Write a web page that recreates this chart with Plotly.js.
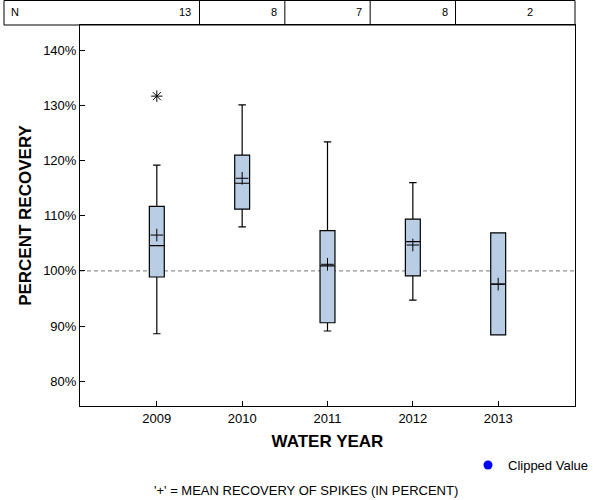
<!DOCTYPE html>
<html>
<head>
<meta charset="utf-8">
<script src="https://cdn.plot.ly/plotly-3.0.1.min.js"></script>
<style>html,body{margin:0;padding:0;background:#fff;}#chart{width:600px;height:500px;}</style>
</head>
<body>
<div id="chart"></div>
<script>
// ---- data ----
var years = ['2009', '2010', '2011', '2012', '2013'];
var nCounts = [13, 8, 7, 8, 2];
var q1Values = [98.9, 111.2, 90.6, 99.1, 88.4];
var medianValues = [104.6, 115.9, 100.9, 105.3, 97.6];
var q3Values = [111.7, 121.0, 107.3, 109.4, 106.9];
var lowerWhisker = [88.6, 108.0, 89.1, 94.7, 88.4];
var upperWhisker = [119.2, 130.1, 123.4, 116.0, 106.9];
var meanValues = [106.5, 116.8, 101.2, 104.7, 97.6];
var outlierYears = ['2009'];
var outlierValues = [131.7];
var yTickValues = [80, 90, 100, 110, 120, 130, 140];
var yTickLabels = ['80%', '90%', '100%', '110%', '120%', '130%', '140%'];

var FONT = 'Liberation Sans, Arial, Helvetica, sans-serif';

var traces = [
  {
    type: 'box',
    x: years,
    q1: q1Values,
    median: medianValues,
    q3: q3Values,
    lowerfence: lowerWhisker,
    upperfence: upperWhisker,
    boxpoints: false,
    width: 0.175,
    whiskerwidth: 0.5,
    fillcolor: '#b9cde5',
    line: {color: '#000000', width: 1.2},
    showlegend: false,
    hoverinfo: 'skip'
  },
  {
    type: 'scatter',
    mode: 'markers',
    x: years,
    y: meanValues,
    marker: {symbol: 'cross-thin', size: 9, color: '#000000', line: {color: '#000000', width: 1}},
    showlegend: false,
    hoverinfo: 'skip'
  },
  {
    type: 'scatter',
    mode: 'markers',
    x: outlierYears,
    y: outlierValues,
    marker: {symbol: 'asterisk-open', size: 9.5, color: '#000000', line: {color: '#000000', width: 1}},
    showlegend: false,
    hoverinfo: 'skip'
  },
  {
    type: 'scatter',
    mode: 'markers',
    x: [null],
    y: [null],
    name: 'Clipped Value',
    marker: {symbol: 'circle', size: 9, color: '#0000ff'},
    showlegend: true
  }
];

var plotH = 500 - 25 - 94;
var tableTop = 1 + 24.5 / plotH;
var tableMid = 1 + 12.5 / plotH;

var shapes = [
  {type: 'rect', xref: 'paper', yref: 'paper', x0: (4 - 80) / 495, x1: 1, y0: 1, y1: tableTop,
   line: {color: '#000000', width: 1}, fillcolor: 'rgba(0,0,0,0)'},
  {type: 'line', xref: 'paper', yref: 'y', x0: 0, x1: 1, y0: 100, y1: 100,
   line: {color: '#777777', width: 1, dash: '4px,3px'}, layer: 'below'}
];
for (var i = 0; i < years.length - 1; i++) {
  shapes.push({type: 'line', xref: 'x', yref: 'paper', x0: i + 0.5, x1: i + 0.5, y0: 1, y1: tableTop,
               line: {color: '#000000', width: 1}});
}

var annotations = [
  {xref: 'paper', yref: 'paper', x: (9 - 80) / 495, y: tableMid, xanchor: 'left', yanchor: 'middle',
   text: 'N', showarrow: false, font: {family: FONT, size: 11, color: '#000'}},
  {xref: 'paper', yref: 'paper', x: (306 - 80) / 495, y: (406 - 491) / plotH, xanchor: 'center', yanchor: 'middle',
   text: "'+' = MEAN RECOVERY OF SPIKES (IN PERCENT)", showarrow: false, font: {family: FONT, size: 13, color: '#000'}}
];
for (var j = 0; j < years.length; j++) {
  annotations.push({xref: 'x', yref: 'paper', x: Math.min(j + 0.5, 4.9), y: tableMid, xanchor: 'right', yanchor: 'middle',
    xshift: -6, text: String(nCounts[j]), showarrow: false, font: {family: FONT, size: 11, color: '#000'}});
}

var layout = {
  width: 600,
  height: 500,
  margin: {l: 80, r: 25, t: 25, b: 94, pad: 0, autoexpand: false},
  paper_bgcolor: '#ffffff',
  plot_bgcolor: '#ffffff',
  font: {family: FONT, size: 13, color: '#000000'},
  xaxis: {
    type: 'category',
    range: [-0.9, 4.9],
    showline: true, mirror: true, linecolor: '#000', linewidth: 1,
    ticks: 'inside', ticklen: 5, tickcolor: '#000',
    showgrid: false, zeroline: false,
    tickfont: {family: FONT, size: 13, color: '#000'},
    title: {text: 'WATER YEAR', font: {family: FONT, size: 17, weight: 700, color: '#000'}, standoff: 10}
  },
  yaxis: {
    range: [75.5, 144.6],
    tickvals: yTickValues,
    ticktext: yTickLabels,
    showline: true, mirror: true, linecolor: '#000', linewidth: 1,
    ticks: 'inside', ticklen: 5, tickcolor: '#000',
    showgrid: false, zeroline: false,
    tickfont: {family: FONT, size: 13, color: '#000'},
    title: {text: 'PERCENT RECOVERY', font: {family: FONT, size: 17, weight: 700, color: '#000'}, standoff: 7}
  },
  showlegend: true,
  legend: {x: (468 - 80) / 495, xanchor: 'left', y: (406 - 465) / plotH, yanchor: 'middle',
           font: {family: FONT, size: 13, color: '#000'}, bgcolor: 'rgba(0,0,0,0)', borderwidth: 0},
  shapes: shapes,
  annotations: annotations
};

Plotly.newPlot('chart', traces, layout, {staticPlot: true, displayModeBar: false});
</script>
</body>
</html>
